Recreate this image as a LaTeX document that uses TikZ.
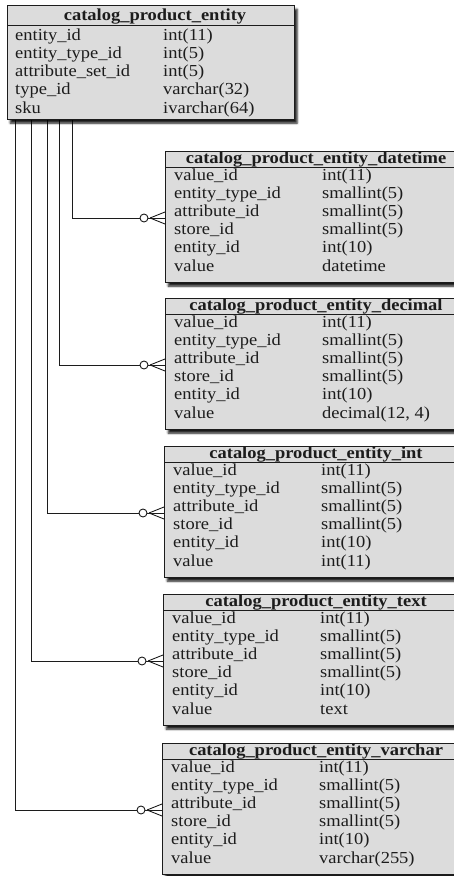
\documentclass[tikz,border=0pt]{standalone}
\usepackage{fontspec}
\setmainfont{Liberation Serif}[FakeStretch=1.1]
\usetikzlibrary{shadows.blur,calc,backgrounds}
\definecolor{tblfill}{HTML}{DCDCDC}
\definecolor{ink}{HTML}{1C1C1C}
\tikzset{
 tbl/.style={draw=ink, line width=1.3pt, fill=tblfill, anchor=north west, inner sep=0pt,
   blur shadow={shadow xshift=2.5pt, shadow yshift=-3.5pt, shadow blur radius=2pt, shadow opacity=90}},
 ttl/.style={font=\fontsize{16.8}{16.8}\selectfont\bfseries, text=ink, inner sep=0pt, anchor=base},
 fld/.style={font=\fontsize{16.8}{16.8}\selectfont, text=ink, inner sep=0pt, anchor=base west},
 hdrline/.style={draw=ink, line width=1pt},
 conn/.style={draw=ink, line width=0.9pt},
 opt/.style={circle, draw=ink, line width=0.9pt, fill=white, minimum size=8pt, inner sep=0pt},
}
% child table: #1 name, #2 left, #3 top, #4 title, #5 value type
\newcommand\childtbl[5]{%
 \node[tbl, minimum width=300pt, minimum height=131pt] (#1) at (#2,#3) {};
 \draw[hdrline] (#2,#3+16) -- (#2+300,#3+16);
 \node[ttl] (#1-t) at (316,#3+12.8) {#4};
 \node[fld] (#1-n1) at (#2+9,#3+29) {value\_id};
 \node[fld] (#1-n2) at (#2+9,#3+47.2) {entity\_type\_id};
 \node[fld] (#1-n3) at (#2+9,#3+65.4) {attribute\_id};
 \node[fld] (#1-n4) at (#2+9,#3+83.6) {store\_id};
 \node[fld] (#1-n5) at (#2+9,#3+101.8) {entity\_id};
 \node[fld] (#1-n6) at (#2+9,#3+120) {value};
 \node[fld] (#1-v1) at (#2+157,#3+29) {int(11)};
 \node[fld] (#1-v2) at (#2+157,#3+47.2) {smallint(5)};
 \node[fld] (#1-v3) at (#2+157,#3+65.4) {smallint(5)};
 \node[fld] (#1-v4) at (#2+157,#3+83.6) {smallint(5)};
 \node[fld] (#1-v5) at (#2+157,#3+101.8) {int(10)};
 \node[fld] (#1-v6) at (#2+157,#3+120) {#5};
}
% connector: #1 name, #2 vertical x
\newcommand\relconn[2]{%
 \coordinate (#1-a) at ($(#1.north west)+(0,67)$);
 \coordinate (#1-s) at (top.south -| #2,0);
 \node[opt] (#1-o) at ($(#1-a)+(-21,0)$) {};
 \begin{scope}[on background layer]
  \draw[conn] (#1-s) |- (#1-o.west);
 \end{scope}
 \draw[conn] (#1-o.east) -- (#1-a);
 \draw[conn] ($(#1-a)+(-15,0)$) -- ($(#1-a)+(0,-6)$);
 \draw[conn] ($(#1-a)+(-15,0)$) -- ($(#1-a)+(0,6)$);
}
\begin{document}
\begin{tikzpicture}[x=1pt,y=-1pt]
\useasboundingbox (0,0) rectangle (454,876);
% main table
\node[tbl, minimum width=287pt, minimum height=114pt] (top) at (7,5) {};
\draw[hdrline] (7,25) -- (294,25);
\node[ttl] (top-t) at (155,20.5) {catalog\_product\_entity};
\node[fld] (top-n1) at (15,40) {entity\_id};
\node[fld] (top-n2) at (15,58.3) {entity\_type\_id};
\node[fld] (top-n3) at (15,76.6) {attribute\_set\_id};
\node[fld] (top-n4) at (15,94.9) {type\_id};
\node[fld] (top-n5) at (15,113.2) {sku};
\node[fld] (top-v1) at (163,40) {int(11)};
\node[fld] (top-v2) at (163,58.3) {int(5)};
\node[fld] (top-v3) at (163,76.6) {int(5)};
\node[fld] (top-v4) at (163,94.9) {varchar(32)};
\node[fld] (top-v5) at (163,113.2) {ivarchar(64)};
% child tables
\childtbl{dt}{165}{151}{catalog\_product\_entity\_datetime}{datetime}
\childtbl{dec}{165}{298}{catalog\_product\_entity\_decimal}{decimal(12, 4)}
\childtbl{int}{164}{446}{catalog\_product\_entity\_int}{int(11)}
\childtbl{txt}{163}{594}{catalog\_product\_entity\_text}{text}
\childtbl{vc}{162}{743}{catalog\_product\_entity\_varchar}{varchar(255)}
% connectors
\relconn{dt}{72.5}
\relconn{dec}{59.5}
\relconn{int}{47}
\relconn{txt}{31.5}
\relconn{vc}{15.5}
\end{tikzpicture}
\end{document}
